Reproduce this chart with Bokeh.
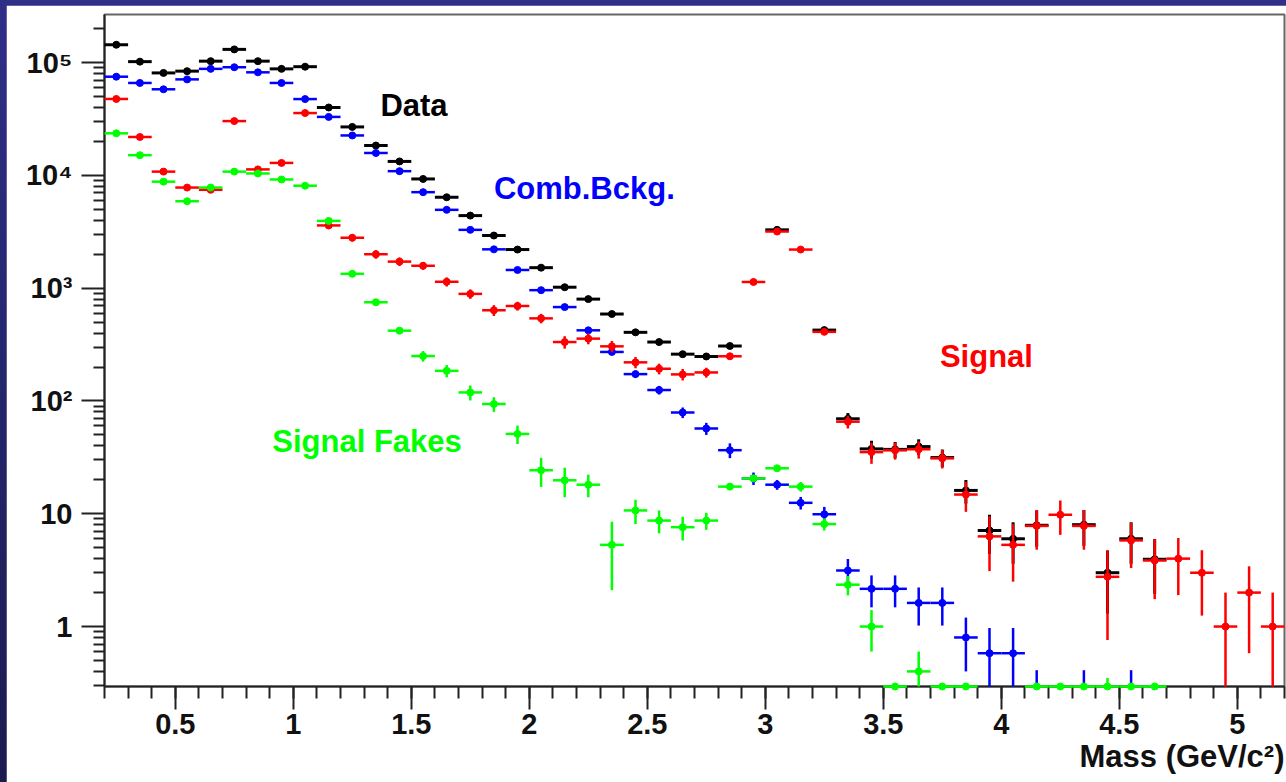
import numpy as np
from bokeh.plotting import figure
from bokeh.layouts import column
from bokeh.models import Range1d, FixedTicker, Label, Title
from bokeh.embed import file_html
from bokeh.resources import INLINE

nan = float("nan")

# Invariant-mass bin centres (GeV/c^2), bin width 0.1
mass = [0.25, 0.35, 0.45, 0.55, 0.65, 0.75, 0.85, 0.95, 1.05, 1.15,
        1.25, 1.35, 1.45, 1.55, 1.65, 1.75, 1.85, 1.95, 2.05, 2.15,
        2.25, 2.35, 2.45, 2.55, 2.65, 2.75, 2.85, 2.95, 3.05, 3.15,
        3.25, 3.35, 3.45, 3.55, 3.65, 3.75, 3.85, 3.95, 4.05, 4.15,
        4.25, 4.35, 4.45, 4.55, 4.65, 4.75, 4.85, 4.95, 5.05, 5.15]

# Data (nan = bin not shown)
data = [1.44e5, 1.02e5, 8.1e4, 8.4e4, 1.03e5, 1.31e5, 1.03e5, 8.8e4, 9.2e4, 4.0e4,
        2.69e4, 1.84e4, 1.33e4, 9.3e3, 6.4e3, 4.4e3, 2.93e3, 2.2e3, 1.52e3, 1.02e3,
        800, 590, 406, 333, 260, 248, 307, nan, 3290, nan,
        425, 69.5, 37.6, 37.2, 39.4, 31.5, 16.1, 7.1, 6.0, 7.9,
        nan, 8.0, 3.0, 6.0, 3.95, nan, nan, nan, nan, nan]
data_err = [380, 320, 285, 290, 320, 360, 320, 297, 303, 200,
            164, 136, 115, 96, 80, 66, 54, 47, 39, 32,
            28, 24, 20, 18, 16, 16, 18, nan, 57, nan,
            21, 8.6, 6.8, 6.1, 6.3, 5.6, 3.8, 2.7, 2.4, 2.8,
            nan, 2.8, 1.7, 2.4, 2.0, nan, nan, nan, nan, nan]

# Combinatorial background
comb = [7.5e4, 6.6e4, 5.8e4, 7.1e4, 8.8e4, 9.1e4, 8.2e4, 6.6e4, 4.75e4, 3.3e4,
        2.26e4, 1.58e4, 1.09e4, 7.1e3, 4.95e3, 3.29e3, 2.21e3, 1.45e3, 960, 680,
        423, 272, 173, 125, 79, 57, 36.6, 20.6, 18.1, 12.5,
        9.9, 3.14, 2.16, 2.16, 1.62, 1.62, 0.80, 0.58, 0.58, 0,
        0, 0, 0, 0, 0, 0, 0, 0, 0, 0]
comb_err = [270, 255, 240, 265, 295, 300, 285, 255, 218, 182,
            150, 126, 104, 84, 70, 57, 47, 38, 31, 26,
            21, 16.5, 13, 11, 8.5, 7, 5.5, 2.6, 1.8, 1.6,
            1.6, 0.83, 0.68, 0.68, 0.6, 0.6, 0.4, 0.39, 0.39, 0.41,
            0, 0.41, 0, 0.41, 0, 0, 0, 0, 0, 0]

# Signal
signal = [4.76e4, 2.19e4, 1.08e4, 7.8e3, 7.45e3, 3.03e4, 1.13e4, 1.29e4, 3.57e4, 3.6e3,
          2.8e3, 2.0e3, 1.72e3, 1.58e3, 1.14e3, 890, 637, 695, 540, 333,
          357, 305, 220, 193, 172, 179, 249, 1135, 3180, 2200,
          410, 65.5, 35.2, 36.5, 37.3, 31.0, 14.8, 6.3, 5.3, 7.8,
          9.8, 7.8, 2.76, 5.8, 3.85, 4.0, 3.0, 1.0, 2.0, 1.0]
signal_err = [420, 380, 340, 350, 380, 420, 380, 350, 360, 260,
              210, 175, 150, 125, 105, 85, 70, 62, 52, 42,
              39, 35, 25, 21, 20, 18, 17, 34, 58, 47,
              21, 8.5, 7.5, 6.3, 6.5, 5.8, 4.4, 3.2, 2.8, 3.0,
              3.3, 3.0, 2.0, 2.5, 2.1, 2.1, 1.75, 1.0, 1.42, 1.0]

# Signal fakes (values below the axis floor sit on the frame bottom)
fakes = [2.36e4, 1.51e4, 8.8e3, 5.9e3, 7.8e3, 1.08e4, 1.04e4, 9.2e3, 8.1e3, 3.95e3,
         1.34e3, 750, 420, 250, 185, 119, 94, 51, 24.3, 19.8,
         18.1, 5.3, 10.7, 8.7, 7.6, 8.7, 17.4, 20.6, 25.3, 17.4,
         8.1, 2.35, 1.0, 0.2, 0.4, 0.2, 0.2, 0, 0, 0.2,
         0.2, 0.2, 0.2, 0.2, 0.2, 0, 0, 0, 0, 0]
fakes_err = [150, 120, 94, 77, 88, 104, 102, 96, 90, 63,
             37, 27, 16, 27, 23, 18, 14, 9.5, 7, 5.8,
             4.1, 3.2, 2.6, 2.0, 1.8, 1.5, 1.2, 1.2, 1.5, 1.7,
             1.0, 0.46, 0.4, 0, 0.2, 0, 0, 0, 0, 0,
             0, 0, 0.15, 0, 0, 0, 0, 0, 0, 0]

x_ticks = [0.5, 1.0, 1.5, 2.0, 2.5, 3.0, 3.5, 4.0, 4.5, 5.0]
x_tick_labels = ["0.5", "1", "1.5", "2", "2.5", "3", "3.5", "4", "4.5", "5"]
y_ticks = [1.0, 10.0, 100.0, 1000.0, 10000.0, 100000.0]
y_tick_labels = ["1", "10", "10\u00b2", "10\u00b3", "10\u2074", "10\u2075"]

X_MIN, X_MAX = 0.2, 5.2
Y_MIN, Y_MAX = 0.294, 2.67e5
HALF_BIN = 0.05
FONT = "Liberation Sans"

p = figure(width=1280, height=777, x_axis_type="linear", y_axis_type="log",
           x_range=Range1d(X_MIN, X_MAX), y_range=Range1d(Y_MIN, Y_MAX),
           output_backend="svg", toolbar_location=None,
           min_border_left=98, min_border_top=9, min_border_right=2, min_border_bottom=96)
p.background_fill_color = "white"
p.border_fill_color = "white"
p.outline_line_color = "#666666"
p.outline_line_width = 2
p.xgrid.visible = False
p.ygrid.visible = False

x_minor = [round(0.2 + 0.1 * k, 1) for k in range(51)]
y_minor = [m * 10.0 ** e for e in range(-1, 6) for m in range(2, 10)
           if Y_MIN <= m * 10.0 ** e <= Y_MAX]

p.xaxis.ticker = FixedTicker(ticks=x_ticks, minor_ticks=x_minor)
p.xaxis.major_label_overrides = dict(zip(x_ticks, x_tick_labels))
p.yaxis.ticker = FixedTicker(ticks=y_ticks, minor_ticks=y_minor)
p.yaxis.major_label_overrides = dict(zip(y_ticks, y_tick_labels))

for ax in (p.xaxis[0], p.yaxis[0]):
    ax.axis_line_color = "#222222"
    ax.axis_line_width = 2
    ax.major_tick_line_color = "#222222"
    ax.minor_tick_line_color = "#222222"
    ax.major_tick_line_width = 2
    ax.minor_tick_line_width = 2
    ax.major_tick_in = 0
    ax.minor_tick_in = 0
    ax.major_tick_out = 23
    ax.major_label_text_font = FONT
    ax.major_label_text_font_style = "bold"
    ax.major_label_text_font_size = "29px"
    ax.major_label_text_color = "#111111"
p.xaxis.minor_tick_out = 12
p.yaxis.minor_tick_out = 11
p.xaxis.major_label_standoff = 4
p.yaxis.major_label_standoff = 9


def draw_hist(values, errors, color, width):
    x = np.asarray(mass, dtype=float)
    v = np.asarray(values, dtype=float)
    e = np.asarray(errors, dtype=float)
    shown = np.isfinite(v) & (v > 0)
    y = np.clip(v, Y_MIN, None)
    with_err = np.isfinite(v) & np.isfinite(e) & (e > 0)
    lo = np.maximum(v - e, Y_MIN)
    hi = v + e
    # keep the points on the frame floor above the axis line
    level = "overlay"
    p.segment(x[with_err], lo[with_err], x[with_err], hi[with_err],
              line_color=color, line_width=width, level=level)
    p.segment(x[shown] - HALF_BIN, y[shown], x[shown] + HALF_BIN, y[shown],
              line_color=color, line_width=width, level=level)
    p.scatter(x[shown], y[shown], size=7, marker="circle",
              fill_color=color, line_color=color, level=level)


draw_hist(data, data_err, "#000000", 3)
draw_hist(comb, comb_err, "#0000ff", 2.5)
draw_hist(signal, signal_err, "#ff0000", 2.5)
draw_hist(fakes, fakes_err, "#00ff00", 2.5)

labels = [("Data", 1.369, 4.17e4, "#000000"),
          ("Comb.Bckg.", 1.850, 7.6e3, "#0000ff"),
          ("Signal", 3.74, 2.46e2, "#ff0000"),
          ("Signal Fakes", 0.911, 43.8, "#00ff00")]
for text, lx, ly, col in labels:
    p.add_layout(Label(x=lx, y=ly, text=text, text_color=col, text_font=FONT,
                       text_font_style="bold", text_font_size="31px",
                       text_baseline="alphabetic", text_align="left"))

p.add_layout(Title(text="Mass (GeV/c\u00b2)", align="right", text_font=FONT,
                   text_font_style="bold", text_font_size="31px",
                   text_color="#111111", standoff=0), "below")

page = column(p, styles={"background": "linear-gradient(to bottom, #2f2f88, #1b1b50)",
                         "padding-left": "6px", "padding-top": "5px"})

open("out.html", "w").write(file_html(page, INLINE))
